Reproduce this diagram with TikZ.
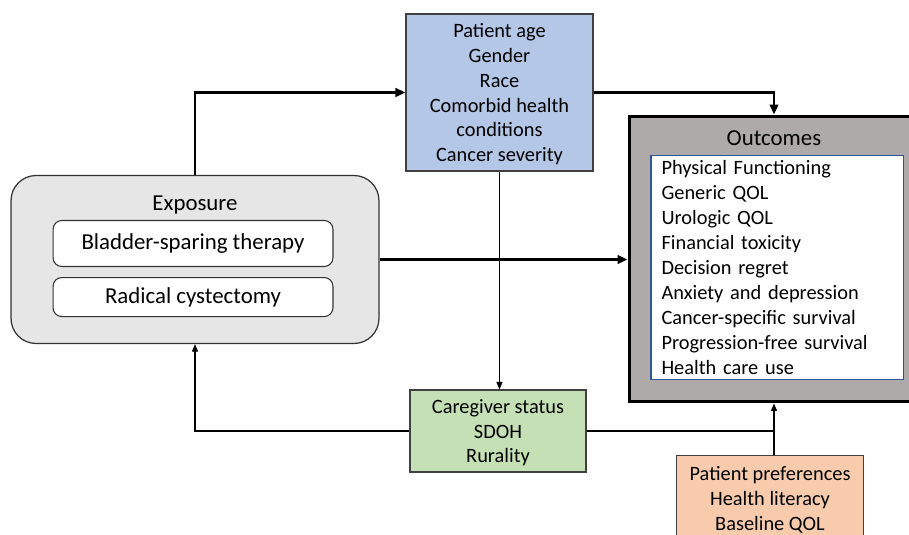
\documentclass[tikz,border=0pt]{standalone}
\usepackage{fontspec}
\setmainfont{Carlito}
\usepackage{xcolor}
\usetikzlibrary{arrows.meta, positioning}
\definecolor{demoblue}{RGB}{180,199,231}
\definecolor{socialgreen}{RGB}{197,224,180}
\definecolor{prefpeach}{RGB}{248,203,173}
\definecolor{outgray}{RGB}{174,170,170}
\definecolor{expgray}{RGB}{231,230,230}
\definecolor{listblue}{RGB}{47,85,151}

\begin{document}
\begin{tikzpicture}[
    x=0.02cm, y=-0.02cm,
    every node/.style={font=\fontsize{11.6}{14.2}\selectfont},
    factor/.style={rectangle, draw=black!75, line width=0.6pt, align=center, inner sep=0pt, text depth=-1pt},
    choice/.style={rectangle, draw=black!80, fill=white, rounded corners=5pt, minimum width=5.6cm, line width=0.6pt, font=\fontsize{13}{15.6}\selectfont},
    title/.style={font=\fontsize{13}{15.6}\selectfont},
    thickarrow/.style={-{Triangle[length=2mm, width=1.7mm]}, line width=1.4pt},
    thinarrow/.style={-{Triangle[length=1.5mm, width=1.2mm]}, line width=0.6pt}
]
\useasboundingbox (0,0) rectangle (909,534);

% confounders
\node[factor, fill=demoblue, minimum width=3.74cm, minimum height=3.14cm] (demo) at (499.5,92.5) {Patient age\\Gender\\Race\\Comorbid health\\conditions\\Cancer severity};

% exposure group
\node[rectangle, draw=black!80, fill=expgray, rounded corners=0.5cm, minimum width=7.36cm, minimum height=3.36cm, line width=0.7pt] (expo) at (195,259.5) {};
\node[title] (expotitle) at (195,205.5) {Exposure};
\node[choice, minimum height=0.92cm] (bst) at (193,243.5) {Bladder-sparing therapy};
\node[choice, minimum height=0.78cm, below=0.2cm of bst] (rc) {Radical cystectomy};

% outcomes
\node[rectangle, draw=black, fill=outgray, line width=1.7pt, minimum width=5.8cm, minimum height=5.72cm] (outc) at (774,259) {};
\node[title] (outctitle) at (774,138) {Outcomes};
\node[rectangle, draw=listblue, fill=white, line width=1.1pt, minimum width=5.06cm, minimum height=4.48cm, text width=4.62cm, inner xsep=0.22cm, inner ysep=0pt, align=left] (outlist) at (777,267.5) {Physical Functioning\\Generic QOL\\Urologic QOL\\Financial toxicity\\Decision regret\\Anxiety and depression\\Cancer-specific survival\\Progression-free survival\\Health care use};

% moderators
\node[factor, fill=socialgreen, minimum width=3.52cm, minimum height=1.64cm] (social) at (498,431) {Caregiver status\\SDOH\\Rurality};
\node[factor, fill=prefpeach, minimum width=3.74cm, minimum height=1.72cm, anchor=north] (pref) at (770,455) {Patient preferences\\Health literacy\\Baseline QOL};

% main paths
\draw[thickarrow] (expo.north) |- (demo.west);
\draw[thickarrow] (demo.east) -| (outc.north);
\draw[thickarrow] (expo.east) -- (expo.east -| outc.west);

% thin paths
\draw[thinarrow] (demo.south) -- (demo.south |- social.north);
\draw[thinarrow] (social.west) -| (expo.south);
\draw[line width=0.6pt] (social.east) -- (social.east -| outc.south);
\draw[thinarrow] (pref.north -| outc.south) -- (outc.south);

\end{tikzpicture}
\end{document}
